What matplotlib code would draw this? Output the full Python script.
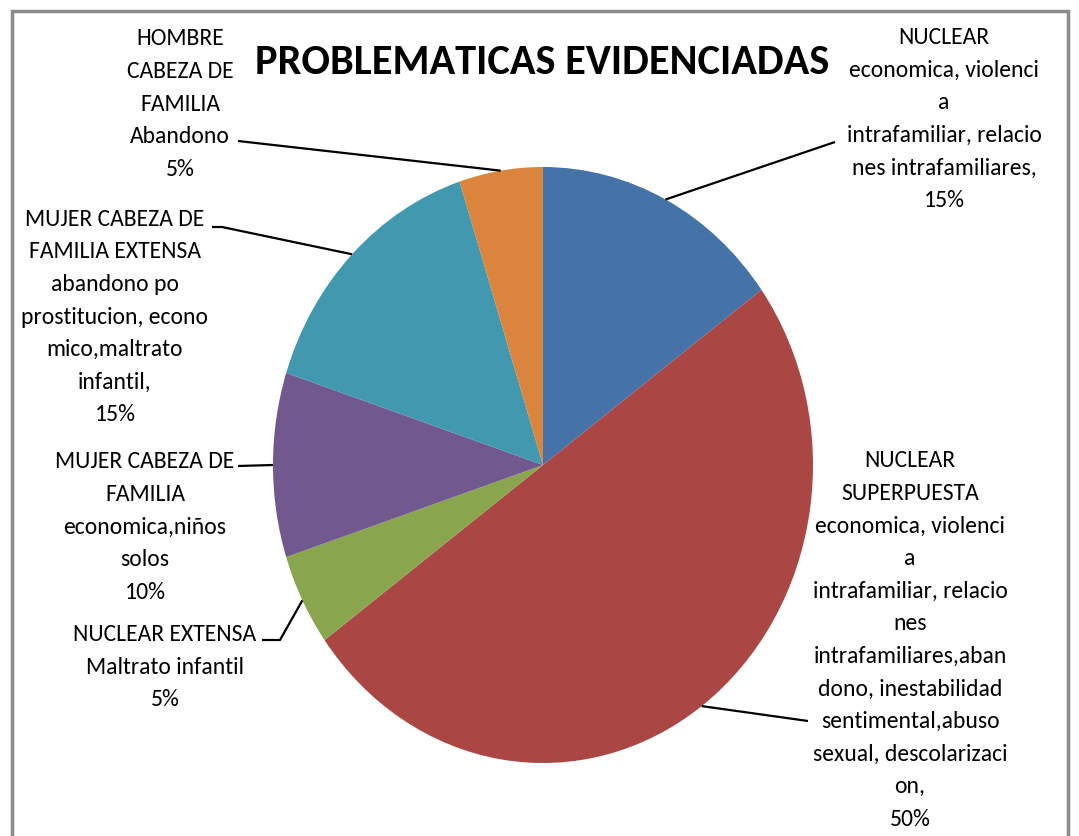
import numpy as np
import matplotlib
matplotlib.use("Agg")
import matplotlib.pyplot as plt
from matplotlib.patches import Rectangle
from matplotlib import font_manager
from matplotlib.font_manager import FontProperties

names = {f.name for f in font_manager.fontManager.ttflist}
if 'Carlito' in names:
    FP = FontProperties(family='Carlito', size=17)
    FPB = FontProperties(family='Carlito', weight='bold', size=30.5)
    LS = 1.68
else:
    FP = FontProperties(fname='/usr/share/fonts/truetype/dejavu/DejaVuSansCondensed.ttf', size=14)
    FPB = FontProperties(fname='/usr/share/fonts/truetype/dejavu/DejaVuSansCondensed-Bold.ttf', size=26)
    LS = 1.6

title = "PROBLEMATICAS EVIDENCIADAS"
categories = ["NUCLEAR", "NUCLEAR\nSUPERPUESTA", "NUCLEAR EXTENSA",
              "MUJER CABEZA DE\nFAMILIA", "MUJER CABEZA DE\nFAMILIA EXTENSA",
              "HOMBRE\nCABEZA DE\nFAMILIA"]
problems = ["economica, violenci\na\nintrafamiliar, relacio\nnes intrafamiliares,",
            "economica, violenci\na\nintrafamiliar, relacio\nnes\nintrafamiliares,aban\ndono, inestabilidad\nsentimental,abuso\nsexual, descolarizaci\non,",
            "Maltrato infantil",
            "economica,niños\nsolos",
            "abandono po\nprostitucion, econo\nmico,maltrato\ninfantil,",
            "Abandono"]
values = [15, 50, 5, 10, 15, 5]
colors = ["#4572A7", "#AA4643", "#89A54E", "#71588F", "#4198AF", "#DB843D"]

W, H = 1079, 837
fig = plt.figure(figsize=(W / 100, H / 100), dpi=100)
ax = fig.add_axes([0, 0, 1, 1])
cx, cy, rx, ry = 543, 466, 270, 298

def px(x, y):
    return ((x - cx) / rx, (cy - y) / ry)

wedges, _ = ax.pie(values, colors=colors, startangle=90, counterclock=False,
                   radius=1, center=(0, 0), frame=True,
                   wedgeprops=dict(linewidth=0))
ax.set_xlim(-cx / rx, (W - cx) / rx)
ax.set_ylim(-(H - cy) / ry, cy / ry)
ax.set_aspect('auto')
ax.axis('off')

# label layout (pixel centres) and leader line start points
label_pos = [(944, 119), (910, 640), (165, 667), (145, 527), (115, 317), (180, 104)]
leader_start = [[(835, 143)], [(808, 722)], [(262, 641), (280, 641)],
                [(238, 467)], [(212, 228), (222, 228)], [(238, 142)]]

for w, cat, prob, v, (lx, ly), ls in zip(wedges, categories, problems, values, label_pos, leader_start):
    ang = np.deg2rad((w.theta1 + w.theta2) / 2)
    ex, ey = np.cos(ang), np.sin(ang)
    txt = f"{cat}\n{prob}\n{v}%"
    tx, ty = px(lx, ly)
    ax.text(tx, ty, txt, ha='center', va='center', multialignment='center',
            fontproperties=FP, linespacing=LS, color='black')
    pts = [px(*p) for p in ls] + [(ex, ey)]
    xs, ys = zip(*pts)
    ax.plot(xs, ys, color='black', lw=1.6, solid_capstyle='butt')

fig.text(542 / W, 1 - 63 / H, title, ha='center', va='center',
         fontproperties=FPB)

fig.patches.append(Rectangle((12 / W, -0.05), (1068 - 12) / W, 1 - 12 / H + 0.05,
                             transform=fig.transFigure, fill=False,
                             edgecolor='#8c8c8c', lw=2.5))

fig.savefig("out.png", dpi=100)
